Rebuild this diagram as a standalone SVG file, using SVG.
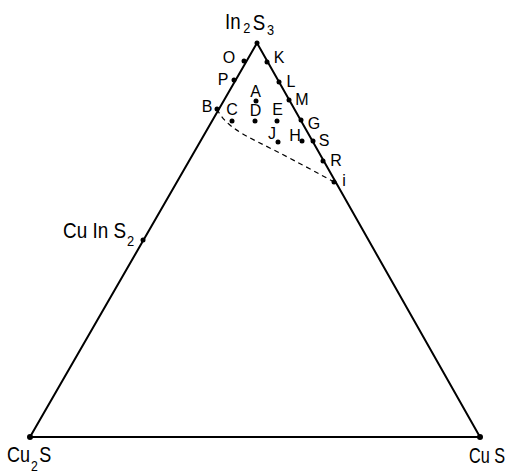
<svg xmlns="http://www.w3.org/2000/svg" width="508" height="474" viewBox="0 0 508 474">
<style>
.edge{stroke:#000;stroke-width:2;fill:none}
.dash{stroke:#000;stroke-width:1.2;fill:none;stroke-dasharray:5,4}
.dot{fill:#000}
.lbl{font-family:"Liberation Sans",Arial,sans-serif;font-size:16px;fill:#000;text-anchor:middle}
.big{font-family:"Liberation Sans",Arial,sans-serif;font-size:22px;fill:#000}
.sub{font-size:15px}
</style>
<rect width="508" height="474" fill="#fff"/>
<g id="connectors">
<path class="edge" d="M257,43 L30,437 L480,437 Z"/>
<path class="dash" d="M217,109 C224,124 240,133 258,142 C280,153 305,166 334,182"/>
</g>
<g id="In2S3"><circle class="dot" cx="257" cy="43" r="2.5"/>
<text class="big" transform="translate(225,29) scale(0.85,1)">In<tspan class="sub" dx="3" dy="4">2</tspan><tspan dx="3" dy="-3">S</tspan><tspan class="sub" dx="2" dy="5">3</tspan></text></g>
<g id="Cu2S"><circle class="dot" cx="30" cy="437" r="3"/>
<text class="big" transform="translate(7,462) scale(0.82,1)">Cu<tspan class="sub" dx="1" dy="9">2</tspan><tspan dx="2" dy="-9">S</tspan></text></g>
<g id="CuS"><circle class="dot" cx="480" cy="437" r="3"/>
<text class="big" transform="translate(469,463) scale(0.74,1)">Cu S</text></g>
<g id="CuInS2"><circle class="dot" cx="143" cy="240" r="2.5"/>
<text class="big" transform="translate(63,238) scale(0.86,1)">Cu In S<tspan class="sub" dx="1" dy="8">2</tspan></text></g>
<g id="O"><circle class="dot" cx="244" cy="61" r="2.5"/><text class="lbl" x="229" y="63">O</text></g>
<g id="K"><circle class="dot" cx="267" cy="62" r="2.5"/><text class="lbl" x="279" y="63">K</text></g>
<g id="P"><circle class="dot" cx="234" cy="80" r="2.5"/><text class="lbl" x="223" y="85">P</text></g>
<g id="L"><circle class="dot" cx="279" cy="82" r="2.5"/><text class="lbl" x="291" y="87">L</text></g>
<g id="M"><circle class="dot" cx="289" cy="100" r="2.5"/><text class="lbl" x="302" y="105">M</text></g>
<g id="B"><circle class="dot" cx="217" cy="109" r="2.5"/><text class="lbl" x="207" y="112">B</text></g>
<g id="A"><circle class="dot" cx="256" cy="101" r="2.5"/><text class="lbl" x="255.5" y="97">A</text></g>
<g id="C"><circle class="dot" cx="232" cy="121" r="2.5"/><text class="lbl" x="232" y="115">C</text></g>
<g id="D"><circle class="dot" cx="255" cy="121" r="2.5"/><text class="lbl" x="255.5" y="116">D</text></g>
<g id="E"><circle class="dot" cx="277" cy="121" r="2.5"/><text class="lbl" x="277.5" y="115">E</text></g>
<g id="G"><circle class="dot" cx="301" cy="120" r="2.5"/><text class="lbl" x="314" y="129">G</text></g>
<g id="J"><circle class="dot" cx="278" cy="142" r="2.5"/><text class="lbl" x="272" y="139">J</text></g>
<g id="H"><circle class="dot" cx="302" cy="141" r="2.5"/><text class="lbl" x="295" y="141">H</text></g>
<g id="S"><circle class="dot" cx="313" cy="141" r="2.5"/><text class="lbl" x="324" y="146">S</text></g>
<g id="R"><circle class="dot" cx="323" cy="161" r="2.5"/><text class="lbl" x="336" y="166">R</text></g>
<g id="i"><circle class="dot" cx="334" cy="182" r="2.5"/><text class="lbl" x="344" y="186">i</text></g>
</svg>
